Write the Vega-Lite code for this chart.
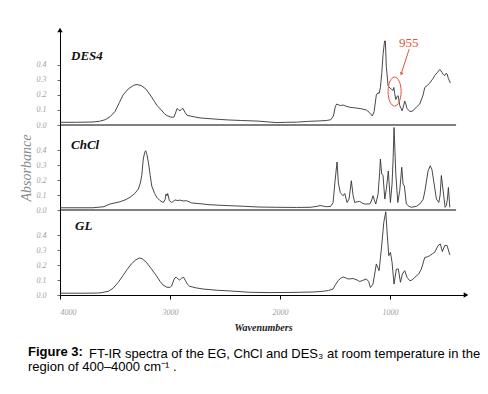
{
  "$schema": "https://vega.github.io/schema/vega-lite/v6.json",
  "background": "white",
  "padding": {"left": 19, "top": 27, "right": 3, "bottom": 3},
  "spacing": 0,
  "bounds": "flush",
  "datasets": {
    "des4": [
      {"w": 4000, "a": 0.018}, {"w": 3850, "a": 0.018}, {"w": 3700, "a": 0.02}, {"w": 3640, "a": 0.025}, {"w": 3590, "a": 0.035},
      {"w": 3545, "a": 0.055}, {"w": 3500, "a": 0.09}, {"w": 3460, "a": 0.15}, {"w": 3427, "a": 0.2}, {"w": 3380, "a": 0.24},
      {"w": 3330, "a": 0.265}, {"w": 3300, "a": 0.27}, {"w": 3260, "a": 0.262}, {"w": 3220, "a": 0.24}, {"w": 3180, "a": 0.2},
      {"w": 3140, "a": 0.155}, {"w": 3118, "a": 0.13}, {"w": 3080, "a": 0.1}, {"w": 3050, "a": 0.075}, {"w": 3027, "a": 0.062},
      {"w": 2990, "a": 0.052}, {"w": 2965, "a": 0.052}, {"w": 2950, "a": 0.08}, {"w": 2936, "a": 0.11}, {"w": 2920, "a": 0.1},
      {"w": 2909, "a": 0.095}, {"w": 2895, "a": 0.105}, {"w": 2882, "a": 0.11}, {"w": 2865, "a": 0.085}, {"w": 2845, "a": 0.065},
      {"w": 2800, "a": 0.057}, {"w": 2727, "a": 0.047}, {"w": 2600, "a": 0.04}, {"w": 2482, "a": 0.034}, {"w": 2350, "a": 0.03},
      {"w": 2200, "a": 0.026}, {"w": 2100, "a": 0.02}, {"w": 2027, "a": 0.016}, {"w": 1950, "a": 0.018}, {"w": 1850, "a": 0.019},
      {"w": 1750, "a": 0.024}, {"w": 1650, "a": 0.027}, {"w": 1580, "a": 0.03}, {"w": 1540, "a": 0.035}, {"w": 1515, "a": 0.06},
      {"w": 1497, "a": 0.125}, {"w": 1485, "a": 0.14}, {"w": 1473, "a": 0.135}, {"w": 1450, "a": 0.13}, {"w": 1427, "a": 0.133},
      {"w": 1400, "a": 0.125}, {"w": 1366, "a": 0.118}, {"w": 1330, "a": 0.115}, {"w": 1306, "a": 0.113}, {"w": 1260, "a": 0.108},
      {"w": 1216, "a": 0.1}, {"w": 1190, "a": 0.085}, {"w": 1161, "a": 0.06}, {"w": 1145, "a": 0.09}, {"w": 1125, "a": 0.2},
      {"w": 1110, "a": 0.215}, {"w": 1100, "a": 0.21}, {"w": 1088, "a": 0.25}, {"w": 1075, "a": 0.35}, {"w": 1064, "a": 0.47},
      {"w": 1050, "a": 0.56}, {"w": 1043, "a": 0.56}, {"w": 1034, "a": 0.39}, {"w": 1018, "a": 0.26}, {"w": 1000, "a": 0.245},
      {"w": 988, "a": 0.24}, {"w": 975, "a": 0.23}, {"w": 966, "a": 0.25}, {"w": 958, "a": 0.21}, {"w": 948, "a": 0.17},
      {"w": 937, "a": 0.19}, {"w": 927, "a": 0.195}, {"w": 912, "a": 0.13}, {"w": 900, "a": 0.11}, {"w": 891, "a": 0.095},
      {"w": 880, "a": 0.12}, {"w": 867, "a": 0.16}, {"w": 857, "a": 0.14}, {"w": 846, "a": 0.11}, {"w": 821, "a": 0.09},
      {"w": 800, "a": 0.092}, {"w": 791, "a": 0.095}, {"w": 760, "a": 0.12}, {"w": 730, "a": 0.14}, {"w": 700, "a": 0.2},
      {"w": 685, "a": 0.25}, {"w": 660, "a": 0.265}, {"w": 639, "a": 0.28}, {"w": 610, "a": 0.31}, {"w": 594, "a": 0.33},
      {"w": 570, "a": 0.35}, {"w": 548, "a": 0.37}, {"w": 537, "a": 0.36}, {"w": 527, "a": 0.35}, {"w": 515, "a": 0.335},
      {"w": 503, "a": 0.33}, {"w": 490, "a": 0.345}, {"w": 482, "a": 0.34}, {"w": 470, "a": 0.31}, {"w": 452, "a": 0.28}
    ],
    "chcl": [
      {"w": 4000, "a": 0.015}, {"w": 3700, "a": 0.015}, {"w": 3600, "a": 0.022}, {"w": 3545, "a": 0.04}, {"w": 3454, "a": 0.055},
      {"w": 3400, "a": 0.07}, {"w": 3364, "a": 0.085}, {"w": 3320, "a": 0.11}, {"w": 3288, "a": 0.14}, {"w": 3270, "a": 0.18},
      {"w": 3257, "a": 0.23}, {"w": 3243, "a": 0.34}, {"w": 3230, "a": 0.385}, {"w": 3221, "a": 0.395}, {"w": 3210, "a": 0.37},
      {"w": 3197, "a": 0.32}, {"w": 3180, "a": 0.23}, {"w": 3166, "a": 0.16}, {"w": 3140, "a": 0.11}, {"w": 3121, "a": 0.085},
      {"w": 3090, "a": 0.062}, {"w": 3061, "a": 0.05}, {"w": 3045, "a": 0.07}, {"w": 3036, "a": 0.107}, {"w": 3028, "a": 0.095},
      {"w": 3021, "a": 0.11}, {"w": 3006, "a": 0.062}, {"w": 2985, "a": 0.05}, {"w": 2970, "a": 0.058}, {"w": 2955, "a": 0.067},
      {"w": 2930, "a": 0.063}, {"w": 2909, "a": 0.066}, {"w": 2880, "a": 0.06}, {"w": 2848, "a": 0.062}, {"w": 2803, "a": 0.047},
      {"w": 2700, "a": 0.04}, {"w": 2636, "a": 0.035}, {"w": 2500, "a": 0.03}, {"w": 2334, "a": 0.025}, {"w": 2200, "a": 0.02},
      {"w": 2030, "a": 0.018}, {"w": 1850, "a": 0.017}, {"w": 1727, "a": 0.018}, {"w": 1660, "a": 0.025}, {"w": 1636, "a": 0.03},
      {"w": 1580, "a": 0.022}, {"w": 1540, "a": 0.024}, {"w": 1518, "a": 0.05}, {"w": 1500, "a": 0.195}, {"w": 1482, "a": 0.32},
      {"w": 1470, "a": 0.18}, {"w": 1452, "a": 0.115}, {"w": 1427, "a": 0.095}, {"w": 1412, "a": 0.11}, {"w": 1391, "a": 0.05},
      {"w": 1373, "a": 0.073}, {"w": 1352, "a": 0.195}, {"w": 1336, "a": 0.095}, {"w": 1321, "a": 0.05}, {"w": 1300, "a": 0.055},
      {"w": 1276, "a": 0.057}, {"w": 1250, "a": 0.045}, {"w": 1230, "a": 0.04}, {"w": 1185, "a": 0.04}, {"w": 1170, "a": 0.06},
      {"w": 1155, "a": 0.095}, {"w": 1140, "a": 0.06}, {"w": 1130, "a": 0.04}, {"w": 1109, "a": 0.107}, {"w": 1095, "a": 0.25},
      {"w": 1088, "a": 0.34}, {"w": 1076, "a": 0.24}, {"w": 1064, "a": 0.23}, {"w": 1048, "a": 0.073}, {"w": 1034, "a": 0.14},
      {"w": 1016, "a": 0.26}, {"w": 997, "a": 0.05}, {"w": 982, "a": 0.173}, {"w": 972, "a": 0.35}, {"w": 964, "a": 0.55},
      {"w": 956, "a": 0.4}, {"w": 948, "a": 0.24}, {"w": 930, "a": 0.05}, {"w": 912, "a": 0.13}, {"w": 894, "a": 0.285},
      {"w": 882, "a": 0.173}, {"w": 870, "a": 0.16}, {"w": 852, "a": 0.04}, {"w": 830, "a": 0.025}, {"w": 806, "a": 0.018},
      {"w": 760, "a": 0.025}, {"w": 730, "a": 0.04}, {"w": 700, "a": 0.07}, {"w": 685, "a": 0.12}, {"w": 655, "a": 0.26},
      {"w": 635, "a": 0.295}, {"w": 620, "a": 0.27}, {"w": 609, "a": 0.22}, {"w": 579, "a": 0.073}, {"w": 557, "a": 0.05},
      {"w": 545, "a": 0.1}, {"w": 534, "a": 0.23}, {"w": 518, "a": 0.13}, {"w": 500, "a": 0.018}, {"w": 488, "a": 0.03},
      {"w": 478, "a": 0.08}, {"w": 470, "a": 0.15}, {"w": 465, "a": 0.1}, {"w": 457, "a": 0.018}
    ],
    "gl": [
      {"w": 4000, "a": 0.012}, {"w": 3800, "a": 0.012}, {"w": 3660, "a": 0.013}, {"w": 3627, "a": 0.015}, {"w": 3560, "a": 0.025},
      {"w": 3518, "a": 0.045}, {"w": 3470, "a": 0.085}, {"w": 3427, "a": 0.13}, {"w": 3390, "a": 0.17}, {"w": 3352, "a": 0.207},
      {"w": 3310, "a": 0.235}, {"w": 3276, "a": 0.247}, {"w": 3250, "a": 0.24}, {"w": 3215, "a": 0.218}, {"w": 3170, "a": 0.175},
      {"w": 3125, "a": 0.13}, {"w": 3090, "a": 0.09}, {"w": 3064, "a": 0.067}, {"w": 3030, "a": 0.052}, {"w": 3003, "a": 0.05},
      {"w": 2985, "a": 0.06}, {"w": 2966, "a": 0.1}, {"w": 2955, "a": 0.115}, {"w": 2943, "a": 0.118}, {"w": 2925, "a": 0.105},
      {"w": 2912, "a": 0.1}, {"w": 2895, "a": 0.112}, {"w": 2876, "a": 0.118}, {"w": 2860, "a": 0.095}, {"w": 2840, "a": 0.07},
      {"w": 2821, "a": 0.058}, {"w": 2760, "a": 0.047}, {"w": 2700, "a": 0.04}, {"w": 2580, "a": 0.032}, {"w": 2457, "a": 0.027},
      {"w": 2275, "a": 0.018}, {"w": 2100, "a": 0.016}, {"w": 1900, "a": 0.017}, {"w": 1700, "a": 0.02}, {"w": 1609, "a": 0.025},
      {"w": 1560, "a": 0.03}, {"w": 1518, "a": 0.04}, {"w": 1495, "a": 0.07}, {"w": 1473, "a": 0.095}, {"w": 1450, "a": 0.112},
      {"w": 1427, "a": 0.12}, {"w": 1405, "a": 0.115}, {"w": 1382, "a": 0.107}, {"w": 1360, "a": 0.108}, {"w": 1336, "a": 0.11},
      {"w": 1300, "a": 0.1}, {"w": 1276, "a": 0.09}, {"w": 1250, "a": 0.097}, {"w": 1216, "a": 0.107}, {"w": 1195, "a": 0.09},
      {"w": 1179, "a": 0.05}, {"w": 1155, "a": 0.073}, {"w": 1125, "a": 0.207}, {"w": 1110, "a": 0.18}, {"w": 1100, "a": 0.162},
      {"w": 1079, "a": 0.307}, {"w": 1057, "a": 0.485}, {"w": 1039, "a": 0.555}, {"w": 1025, "a": 0.395}, {"w": 1012, "a": 0.262},
      {"w": 997, "a": 0.285}, {"w": 982, "a": 0.218}, {"w": 964, "a": 0.073}, {"w": 943, "a": 0.173}, {"w": 925, "a": 0.173},
      {"w": 906, "a": 0.085}, {"w": 888, "a": 0.14}, {"w": 867, "a": 0.162}, {"w": 846, "a": 0.118}, {"w": 821, "a": 0.095},
      {"w": 800, "a": 0.1}, {"w": 776, "a": 0.118}, {"w": 740, "a": 0.14}, {"w": 716, "a": 0.173}, {"w": 685, "a": 0.25},
      {"w": 660, "a": 0.255}, {"w": 639, "a": 0.262}, {"w": 615, "a": 0.275}, {"w": 594, "a": 0.285}, {"w": 564, "a": 0.33},
      {"w": 543, "a": 0.34}, {"w": 525, "a": 0.29}, {"w": 503, "a": 0.33}, {"w": 482, "a": 0.33}, {"w": 470, "a": 0.3},
      {"w": 457, "a": 0.267}
    ]
  },
  "title": {
    "text": "FT-IR spectra of the EG, ChCl and DES₃ at room temperature in the",
    "orient": "bottom",
    "anchor": "start",
    "frame": "group",
    "dx": 29,
    "dy": -30,
    "font": "Liberation Sans",
    "fontSize": 13,
    "fontWeight": "normal",
    "color": "#000"
  },
  "config": {
    "view": {"stroke": null},
    "axis": {"grid": false},
    "axisY": {
      "domainColor": "#000",
      "domainWidth": 1,
      "tickColor": "#666",
      "tickSize": 3,
      "labelFont": "Liberation Serif",
      "labelFontStyle": "italic",
      "labelFontSize": 8,
      "labelColor": "#a0a0a0",
      "labelPadding": 11,
      "labelOverlap": false,
      "labelBound": false,
      "labelFlush": false
    }
  },
  "vconcat": [
    {
      "width": 406,
      "height": 95,
      "layer": [
        {
          "data": {"name": "des4"},
          "mark": {"type": "line", "color": "#333", "strokeWidth": 0.9},
          "encoding": {
            "x": {"field": "w", "type": "quantitative", "scale": {"domain": [4000, 310], "nice": false, "zero": false}, "axis": null},
            "y": {"field": "a", "type": "quantitative", "scale": {"domain": [0, 0.6333], "nice": false}, "axis": {"title": null, "values": [0, 0.1, 0.2, 0.3, 0.4], "format": ".1f", "labelOverlap": false}}
          }
        },
        {
          "data": {"values": [{}]},
          "mark": {"type": "rule", "color": "#000", "strokeWidth": 1},
          "encoding": {"x": {"datum": 4000, "axis": null}, "x2": {"datum": 400}, "y": {"datum": 0, "axis": {"title": null, "values": [0, 0.1, 0.2, 0.3, 0.4], "format": ".1f", "labelOverlap": false}}}
        },
        {
          "data": {"values": [{}]},
          "mark": {"type": "point", "shape": "triangle-up", "size": 28, "filled": true, "color": "#000", "opacity": 1},
          "encoding": {"x": {"datum": 4000, "axis": null}, "y": {"datum": 0.6333, "axis": {"title": null, "values": [0, 0.1, 0.2, 0.3, 0.4], "format": ".1f", "labelOverlap": false}}}
        },
        {
          "data": {"values": [{"label": "DES4"}]},
          "mark": {"type": "text", "align": "left", "baseline": "middle", "font": "Liberation Serif", "fontStyle": "italic", "fontWeight": "bold", "fontSize": 13, "color": "#111"},
          "encoding": {"x": {"datum": 3900, "axis": null}, "y": {"datum": 0.46, "axis": {"title": null, "values": [0, 0.1, 0.2, 0.3, 0.4], "format": ".1f", "labelOverlap": false}}, "text": {"field": "label"}}
        },
        {
          "data": {"values": [{"label": "955"}]},
          "mark": {"type": "text", "align": "center", "baseline": "middle", "font": "Liberation Serif", "fontSize": 13, "color": "#e0533d"},
          "encoding": {"x": {"datum": 830, "axis": null}, "y": {"datum": 0.545, "axis": {"title": null, "values": [0, 0.1, 0.2, 0.3, 0.4], "format": ".1f", "labelOverlap": false}}, "text": {"field": "label"}}
        },
        {
          "data": {"values": [{}]},
          "mark": {"type": "rule", "color": "#e0533d", "strokeWidth": 1},
          "encoding": {"x": {"datum": 827, "axis": null}, "y": {"datum": 0.505, "axis": {"title": null, "values": [0, 0.1, 0.2, 0.3, 0.4], "format": ".1f", "labelOverlap": false}}, "x2": {"datum": 895}, "y2": {"datum": 0.35}}
        },
        {
          "data": {"values": [{}]},
          "mark": {"type": "point", "shape": "triangle-down", "size": 14, "angle": 20, "filled": true, "color": "#e0533d", "opacity": 1},
          "encoding": {"x": {"datum": 898, "axis": null}, "y": {"datum": 0.34, "axis": {"title": null, "values": [0, 0.1, 0.2, 0.3, 0.4], "format": ".1f", "labelOverlap": false}}}
        },
        {
          "data": {"values": [{}]},
          "mark": {"type": "point", "shape": "M0,-1C0.249,-1 0.45,-0.552 0.45,0C0.45,0.552 0.249,1 0,1C-0.249,1 -0.45,0.552 -0.45,0C-0.45,-0.552 -0.249,-1 0,-1Z", "size": 841, "filled": false, "stroke": "#e0533d", "strokeWidth": 1, "opacity": 1},
          "encoding": {"x": {"datum": 959, "axis": null}, "y": {"datum": 0.223, "axis": {"title": null, "values": [0, 0.1, 0.2, 0.3, 0.4], "format": ".1f", "labelOverlap": false}}}
        }
      ]
    },
    {
      "width": 406,
      "height": 85,
      "layer": [
        {
          "data": {"name": "chcl"},
          "mark": {"type": "line", "color": "#333", "strokeWidth": 0.9},
          "encoding": {
            "x": {"field": "w", "type": "quantitative", "scale": {"domain": [4000, 310], "nice": false, "zero": false}, "axis": null},
            "y": {"field": "a", "type": "quantitative", "scale": {"domain": [0, 0.5667], "nice": false},
                  "axis": {"values": [0, 0.1, 0.2, 0.3, 0.4], "format": ".1f", "labelOverlap": false, "title": "Absorbance", "titleFont": "Liberation Serif", "titleFontStyle": "italic", "titleFontWeight": "normal", "titleFontSize": 14, "titleColor": "#8a8a8a", "titlePadding": 3}}
          }
        },
        {
          "data": {"values": [{}]},
          "mark": {"type": "rule", "color": "#000", "strokeWidth": 1},
          "encoding": {"x": {"datum": 4000, "axis": null}, "x2": {"datum": 400}, "y": {"datum": 0, "axis": {"values": [0, 0.1, 0.2, 0.3, 0.4], "format": ".1f", "labelOverlap": false, "title": "Absorbance", "titleFont": "Liberation Serif", "titleFontStyle": "italic", "titleFontWeight": "normal", "titleFontSize": 14, "titleColor": "#8a8a8a", "titlePadding": 3}}}
        },
        {
          "data": {"values": [{"label": "ChCl"}]},
          "mark": {"type": "text", "align": "left", "baseline": "middle", "font": "Liberation Serif", "fontStyle": "italic", "fontWeight": "bold", "fontSize": 13, "color": "#111"},
          "encoding": {"x": {"datum": 3900, "axis": null}, "y": {"datum": 0.433, "axis": {"values": [0, 0.1, 0.2, 0.3, 0.4], "format": ".1f", "labelOverlap": false, "title": "Absorbance", "titleFont": "Liberation Serif", "titleFontStyle": "italic", "titleFontWeight": "normal", "titleFontSize": 14, "titleColor": "#8a8a8a", "titlePadding": 3}}, "text": {"field": "label"}}
        }
      ]
    },
    {
      "width": 406,
      "height": 85,
      "title": {
        "text": "Figure 3:",
        "subtitle": "region of 400–4000 cm⁻¹ .",
        "orient": "bottom",
        "anchor": "start",
        "frame": "group",
        "dx": -32,
        "offset": 14,
        "font": "Liberation Sans",
        "fontSize": 13,
        "fontWeight": "bold",
        "color": "#000",
        "subtitleFont": "Liberation Sans",
        "subtitleFontSize": 13,
        "subtitleColor": "#000",
        "subtitlePadding": 2
      },
      "layer": [
        {
          "data": {"name": "gl"},
          "mark": {"type": "line", "color": "#333", "strokeWidth": 0.9},
          "encoding": {
            "x": {"field": "w", "type": "quantitative", "scale": {"domain": [4000, 310], "nice": false, "zero": false},
                  "axis": {"values": [4000, 3000, 2000, 1000], "format": "d", "domainColor": "#000", "tickColor": "#000", "tickSize": 4,
                           "labelFont": "Liberation Serif", "labelFontStyle": "italic", "labelFontSize": 8, "labelColor": "#a0a0a0", "labelPadding": 9,
                           "title": "Wavenumbers", "titleFont": "Liberation Serif", "titleFontStyle": "italic", "titleFontWeight": "bold", "titleFontSize": 10, "titleColor": "#222", "titlePadding": 6}},
            "y": {"field": "a", "type": "quantitative", "scale": {"domain": [0, 0.5667], "nice": false}, "axis": {"title": null, "values": [0, 0.1, 0.2, 0.3, 0.4], "format": ".1f", "labelOverlap": false}}
          }
        },
        {
          "data": {"values": [{}]},
          "mark": {"type": "point", "shape": "triangle-right", "size": 28, "filled": true, "color": "#000", "opacity": 1},
          "encoding": {"x": {"datum": 310}, "y": {"datum": 0, "axis": {"title": null, "values": [0, 0.1, 0.2, 0.3, 0.4], "format": ".1f", "labelOverlap": false}}}
        },
        {
          "data": {"values": [{"label": "GL"}]},
          "mark": {"type": "text", "align": "left", "baseline": "middle", "font": "Liberation Serif", "fontStyle": "italic", "fontWeight": "bold", "fontSize": 13, "color": "#111"},
          "encoding": {"x": {"datum": 3863}, "y": {"datum": 0.46, "axis": {"title": null, "values": [0, 0.1, 0.2, 0.3, 0.4], "format": ".1f", "labelOverlap": false}}, "text": {"field": "label"}}
        }
      ]
    }
  ]
}
